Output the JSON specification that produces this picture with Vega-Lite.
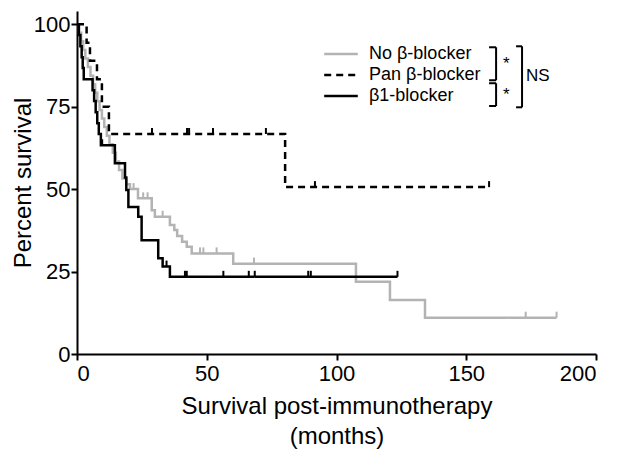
{
  "$schema": "https://vega.github.io/schema/vega-lite/v6.json",
  "width": 519,
  "height": 343,
  "autosize": {"type": "none"},
  "padding": {"left": 77, "top": 11, "right": 28, "bottom": 106},
  "background": "white",
  "config": {
    "view": {"stroke": null},
    "font": "Liberation Sans",
    "axis": {
      "grid": false,
      "domainColor": "black",
      "domainWidth": 2,
      "tickColor": "black",
      "tickWidth": 2,
      "tickSize": 6,
      "labelColor": "black",
      "labelFont": "Liberation Sans",
      "labelFontSize": 22,
      "titleFont": "Liberation Sans",
      "titleFontSize": 24,
      "titleFontWeight": "normal",
      "titleColor": "black"
    },
    "legend": {
      "labelFont": "Liberation Sans",
      "labelFontSize": 18,
      "labelColor": "black"
    }
  },
  "datasets": {
    "curves": [
      {"g": "No β-blocker", "t": 0, "s": 100},
      {"g": "No β-blocker", "t": 0.8, "s": 97.4},
      {"g": "No β-blocker", "t": 1.6, "s": 94.8},
      {"g": "No β-blocker", "t": 2.4, "s": 92.2},
      {"g": "No β-blocker", "t": 3.2, "s": 89.6},
      {"g": "No β-blocker", "t": 4.2, "s": 87},
      {"g": "No β-blocker", "t": 5.2, "s": 84.4},
      {"g": "No β-blocker", "t": 6.2, "s": 81.8},
      {"g": "No β-blocker", "t": 7.0, "s": 79.2},
      {"g": "No β-blocker", "t": 7.8, "s": 76.6},
      {"g": "No β-blocker", "t": 8.7, "s": 74},
      {"g": "No β-blocker", "t": 9.6, "s": 71.4},
      {"g": "No β-blocker", "t": 10.5, "s": 68.8},
      {"g": "No β-blocker", "t": 11.5, "s": 66.2},
      {"g": "No β-blocker", "t": 12.5, "s": 63.6},
      {"g": "No β-blocker", "t": 13.8, "s": 61},
      {"g": "No β-blocker", "t": 15.0, "s": 58.4},
      {"g": "No β-blocker", "t": 16.2, "s": 55.8},
      {"g": "No β-blocker", "t": 17.5, "s": 53.2},
      {"g": "No β-blocker", "t": 19.0, "s": 51.5},
      {"g": "No β-blocker", "t": 20.4, "s": 50.0},
      {"g": "No β-blocker", "t": 23.5, "s": 47.2},
      {"g": "No β-blocker", "t": 28.8, "s": 43.6},
      {"g": "No β-blocker", "t": 30.0, "s": 41.6},
      {"g": "No β-blocker", "t": 35.8, "s": 39.1},
      {"g": "No β-blocker", "t": 37.5, "s": 37.6},
      {"g": "No β-blocker", "t": 38.6, "s": 35.8},
      {"g": "No β-blocker", "t": 40.5, "s": 34.0},
      {"g": "No β-blocker", "t": 42.3, "s": 32.5},
      {"g": "No β-blocker", "t": 44.2, "s": 30.5},
      {"g": "No β-blocker", "t": 60.2, "s": 27.4},
      {"g": "No β-blocker", "t": 107.5, "s": 21.9},
      {"g": "No β-blocker", "t": 120.6, "s": 16.4},
      {"g": "No β-blocker", "t": 134.1, "s": 11.0},
      {"g": "No β-blocker", "t": 184.8, "s": 11.0},
      {"g": "Pan β-blocker", "t": 0, "s": 100},
      {"g": "Pan β-blocker", "t": 3.7, "s": 94.4},
      {"g": "Pan β-blocker", "t": 5.0, "s": 88.9},
      {"g": "Pan β-blocker", "t": 7.7, "s": 83.3},
      {"g": "Pan β-blocker", "t": 9.6, "s": 75},
      {"g": "Pan β-blocker", "t": 12.3, "s": 66.7},
      {"g": "Pan β-blocker", "t": 80.2, "s": 50.6},
      {"g": "Pan β-blocker", "t": 158.8, "s": 50.6},
      {"g": "β1-blocker", "t": 0, "s": 100},
      {"g": "β1-blocker", "t": 0.7, "s": 96.7},
      {"g": "β1-blocker", "t": 1.3, "s": 93.3},
      {"g": "β1-blocker", "t": 1.8, "s": 90},
      {"g": "β1-blocker", "t": 2.2, "s": 86.7},
      {"g": "β1-blocker", "t": 2.6, "s": 83.3},
      {"g": "β1-blocker", "t": 6.0, "s": 80},
      {"g": "β1-blocker", "t": 6.6, "s": 76.7},
      {"g": "β1-blocker", "t": 7.2, "s": 73.3},
      {"g": "β1-blocker", "t": 7.8, "s": 70},
      {"g": "β1-blocker", "t": 8.4, "s": 66.7},
      {"g": "β1-blocker", "t": 9.2, "s": 63.3},
      {"g": "β1-blocker", "t": 14.6, "s": 57.8},
      {"g": "β1-blocker", "t": 18.5, "s": 53.5},
      {"g": "β1-blocker", "t": 19.0, "s": 49.7},
      {"g": "β1-blocker", "t": 19.8, "s": 44.6},
      {"g": "β1-blocker", "t": 23.6, "s": 41.6},
      {"g": "β1-blocker", "t": 24.9, "s": 34.5},
      {"g": "β1-blocker", "t": 31.3, "s": 29.0},
      {"g": "β1-blocker", "t": 33.0, "s": 26.5},
      {"g": "β1-blocker", "t": 35.8, "s": 23.4},
      {"g": "β1-blocker", "t": 123.5, "s": 23.4}
    ],
    "censor": [
      {"g": "No β-blocker", "t": 21.8, "s": 50.0},
      {"g": "No β-blocker", "t": 25.5, "s": 47.2},
      {"g": "No β-blocker", "t": 27.2, "s": 47.2},
      {"g": "No β-blocker", "t": 33.0, "s": 41.6},
      {"g": "No β-blocker", "t": 47.4, "s": 30.5},
      {"g": "No β-blocker", "t": 48.7, "s": 30.5},
      {"g": "No β-blocker", "t": 53.8, "s": 30.5},
      {"g": "No β-blocker", "t": 68.2, "s": 27.4},
      {"g": "No β-blocker", "t": 172.9, "s": 11.0},
      {"g": "No β-blocker", "t": 184.8, "s": 11.0},
      {"g": "Pan β-blocker", "t": 28.9, "s": 66.7},
      {"g": "Pan β-blocker", "t": 42.4, "s": 66.7},
      {"g": "Pan β-blocker", "t": 43.2, "s": 66.7},
      {"g": "Pan β-blocker", "t": 52.4, "s": 66.7},
      {"g": "Pan β-blocker", "t": 72.8, "s": 66.7},
      {"g": "Pan β-blocker", "t": 91.7, "s": 50.6},
      {"g": "Pan β-blocker", "t": 158.8, "s": 50.6},
      {"g": "β1-blocker", "t": 9.7, "s": 63.3},
      {"g": "β1-blocker", "t": 34.5, "s": 26.5},
      {"g": "β1-blocker", "t": 41.6, "s": 23.4},
      {"g": "β1-blocker", "t": 42.3, "s": 23.4},
      {"g": "β1-blocker", "t": 56.4, "s": 23.4},
      {"g": "β1-blocker", "t": 66.2, "s": 23.4},
      {"g": "β1-blocker", "t": 68.5, "s": 23.4},
      {"g": "β1-blocker", "t": 89.1, "s": 23.4},
      {"g": "β1-blocker", "t": 90.1, "s": 23.4},
      {"g": "β1-blocker", "t": 123.5, "s": 23.4}
    ],
    "brackets": [
      {"x": 161.5, "x2": 161.5, "y": 93.0, "y2": 83.0},
      {"x": 158.8, "x2": 161.5, "y": 93.0, "y2": 93.0},
      {"x": 158.8, "x2": 161.5, "y": 83.0, "y2": 83.0},
      {"x": 161.5, "x2": 161.5, "y": 82.1, "y2": 75.2},
      {"x": 158.8, "x2": 161.5, "y": 82.1, "y2": 82.1},
      {"x": 158.8, "x2": 161.5, "y": 75.2, "y2": 75.2},
      {"x": 171.5, "x2": 171.5, "y": 93.3, "y2": 74.8},
      {"x": 169.2, "x2": 171.5, "y": 93.3, "y2": 93.3},
      {"x": 169.2, "x2": 171.5, "y": 74.8, "y2": 74.8}
    ],
    "notes": [
      {"x": 164.2, "y": 87.9, "label": "*"},
      {"x": 164.2, "y": 78.5, "label": "*"},
      {"x": 173.0, "y": 84.2, "label": "NS"}
    ]
  },
  "layer": [
    {
      "data": {"name": "curves"},
      "mark": {"type": "line", "interpolate": "step-after", "strokeWidth": 2.5, "clip": false},
      "encoding": {
        "x": {
          "field": "t", "type": "quantitative",
          "scale": {"domain": [0, 200], "nice": false},
          "axis": {"values": [0, 50, 100, 150, 200], "labelPadding": 3, "title": ["Survival post-immunotherapy", "(months)"], "titlePadding": 10, "titleLineHeight": 30}
        },
        "y": {
          "field": "s", "type": "quantitative",
          "scale": {"domain": [0, 104], "nice": false},
          "axis": {"values": [0, 25, 50, 75, 100], "labelPadding": 1, "title": "Percent survival", "titlePadding": -2}
        },
        "color": {
          "field": "g", "type": "nominal",
          "scale": {"domain": ["No β-blocker", "Pan β-blocker", "β1-blocker"], "range": ["#b3b3b3", "#000000", "#000000"]},
          "legend": {
            "title": null, "orient": "none", "legendX": 252, "legendY": 31, "padding": 0,
            "symbolType": "M-1.6,0H1.6", "symbolSize": 441, "symbolStrokeWidth": 2.5,
            "labelOffset": 16, "rowPadding": 0
          }
        },
        "strokeDash": {
          "field": "g", "type": "nominal",
          "scale": {"domain": ["No β-blocker", "Pan β-blocker", "β1-blocker"], "range": [[1, 0], [7, 5], [1, 0]]},
          "legend": {
            "title": null, "orient": "none", "legendX": 252, "legendY": 31, "padding": 0,
            "symbolType": "M-1.6,0H1.6", "symbolSize": 441, "symbolStrokeWidth": 2.5,
            "labelOffset": 16, "rowPadding": 0
          }
        }
      }
    },
    {
      "data": {"name": "censor"},
      "mark": {"type": "point", "shape": "M0,0L0,-1", "size": 144, "filled": false, "strokeWidth": 2, "opacity": 1},
      "encoding": {
        "x": {"field": "t", "type": "quantitative"},
        "y": {"field": "s", "type": "quantitative"},
        "stroke": {"condition": {"test": "datum.g === 'No β-blocker'", "value": "#b3b3b3"}, "value": "#000000"}
      }
    },
    {
      "data": {"name": "brackets"},
      "mark": {"type": "rule", "strokeWidth": 2, "color": "black"},
      "encoding": {
        "x": {"field": "x", "type": "quantitative"},
        "x2": {"field": "x2"},
        "y": {"field": "y", "type": "quantitative"},
        "y2": {"field": "y2"}
      }
    },
    {
      "data": {"name": "notes"},
      "mark": {"type": "text", "align": "left", "baseline": "middle", "fontSize": 17, "font": "Liberation Sans", "color": "black"},
      "encoding": {
        "x": {"field": "x", "type": "quantitative"},
        "y": {"field": "y", "type": "quantitative"},
        "text": {"field": "label"}
      }
    }
  ]
}
